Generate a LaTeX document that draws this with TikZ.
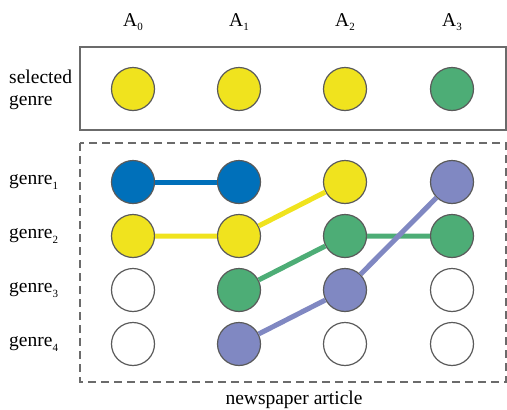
\documentclass[tikz,border=0pt]{standalone}
\usepackage{fontspec}
\setmainfont{Liberation Serif}
\definecolor{gyellow}{HTML}{F0E31E}
\definecolor{gblue}{HTML}{0070BA}
\definecolor{ggreen}{HTML}{4DAD76}
\definecolor{gpurple}{HTML}{8088C2}
\definecolor{rimgray}{HTML}{5A5A5A}
\newcommand{\lowidx}[1]{\raisebox{-0.5ex}{\fontsize{11}{11}\selectfont #1}}
\tikzset{
  dot/.style = {circle, draw = rimgray, line width = 1.2pt, minimum size = 43pt, inner sep = 0pt, fill = #1},
  dot/.default = white,
  link/.style = {line width = 5pt, draw = #1},
  lbl/.style = {font = \fontsize{19.5}{21}\selectfont, inner sep = 0pt}
}
\begin{document}
\begin{tikzpicture}[x = 1pt, y = -1pt]
      \useasboundingbox (0,0) rectangle (507,410);
      % frames
      \draw[line width = 1.5pt, draw = rimgray!90] (80,47) rectangle (506,130);
      \draw[line width = 1.3pt, draw = rimgray!90, dash pattern = on 8pt off 5pt] (80,143) rectangle (506,382);
      % column heads
      \node[lbl] at (133,22) (H0) {A\lowidx{0}};
      \node[lbl] at (239,22) (H1) {A\lowidx{1}};
      \node[lbl] at (345,22) (H2) {A\lowidx{2}};
      \node[lbl] at (452,22) (H3) {A\lowidx{3}};
      % row labels
      \node[lbl, align = left, anchor = west] at (9,90) (S) {selected\\[1pt]genre};
      \node[lbl, anchor = west] at (9,182) (L1) {genre\lowidx{1}};
      \node[lbl, anchor = west] at (9,236) (L2) {genre\lowidx{2}};
      \node[lbl, anchor = west] at (9,290) (L3) {genre\lowidx{3}};
      \node[lbl, anchor = west] at (9,344) (L4) {genre\lowidx{4}};
      \node[lbl] at (294,400) (N) {newspaper article};
      % selected genre
      \node[dot = gyellow] at (133,89) (S0) {};
      \node[dot = gyellow] at (239,89) (S1) {};
      \node[dot = gyellow] at (345,89) (S2) {};
      \node[dot = ggreen] at (452,89) (S3) {};
      % first column
      \node[dot = gblue] at (133,182) (A01) {};
      \node[dot = gyellow] at (133,236) (A02) {};
      \node[dot] at (133,290) (A03) {};
      \node[dot] at (133,344) (A04) {};
      % second column
      \node[dot = gblue] at (239,182) (A11) {};
      \node[dot = gyellow] at (239,236) (A12) {};
      \node[dot = ggreen] at (239,290) (A13) {};
      \node[dot = gpurple] at (239,344) (A14) {};
      % third column
      \node[dot = gyellow] at (345,182) (A21) {};
      \node[dot = ggreen] at (345,236) (A22) {};
      \node[dot = gpurple] at (345,290) (A23) {};
      \node[dot] at (345,344) (A24) {};
      % fourth column
      \node[dot = gpurple] at (452,182) (A31) {};
      \node[dot = ggreen] at (452,236) (A32) {};
      \node[dot] at (452,290) (A33) {};
      \node[dot] at (452,344) (A34) {};
      % paths
      \draw[link = gblue] (A01) -- (A11);
      \draw[link = gyellow] (A02) -- (A12) -- (A21);
      \draw[link = ggreen] (A13) -- (A22) -- (A32);
      \draw[link = gpurple] (A14) -- (A23) -- (A31);
    \end{tikzpicture}
\end{document}
